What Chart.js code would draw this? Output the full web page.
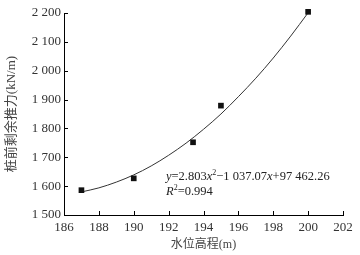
<!DOCTYPE html>
<html lang="zh">
<head>
<meta charset="UTF-8">
<title>桩前剩余推力与水位高程</title>
<style>
    html, body { margin: 0; padding: 0; background: #ffffff; }
    .wrap { width: 360px; height: 255px; position: relative; }
</style>
</head>
<body>
<div class="wrap"><canvas id="chart"></canvas></div>
<script src="https://cdn.jsdelivr.net/npm/chart.js@4.4.3/dist/chart.umd.min.js"></script>
<script>
// 实测点 (水位高程, 桩前剩余推力)
const waterLevel = [187, 190, 193.4, 195, 200];
const residualThrust = [1586, 1627, 1752, 1879, 2204];

// 拟合曲线 (从图上读取的点)
const fitX = [187, 188, 189, 190, 191, 192, 193, 194, 195, 196, 197, 198, 199, 200];
const fitY = [1580, 1594, 1614, 1639, 1670, 1707, 1749, 1797, 1850, 1910, 1974, 2044, 2120, 2201];

const xTicks = [186, 188, 190, 192, 194, 196, 198, 200, 202];
const yTicks = [1500, 1600, 1700, 1800, 1900, 2000, 2100, 2200];

const serif = '"Liberation Serif", "Times New Roman", serif';
const cjk = '"Liberation Serif", "Noto Sans CJK SC", serif';

function spaced(v) {
    return String(v).replace(/\B(?=(\d{3})+(?!\d))/g, ' ');
}

// 刻度朝内 + 拟合公式
const innerTicks = {
    id: 'innerTicks',
    afterDraw(chart) {
        const ctx = chart.ctx;
        const xs = chart.scales.x, ys = chart.scales.y;
        const a = chart.chartArea;
        ctx.save();
        ctx.strokeStyle = '#000';
        ctx.lineWidth = 1;
        ctx.beginPath();
        xTicks.forEach(v => {
            const px = Math.round(xs.getPixelForValue(v)) + 0.5;
            ctx.moveTo(px, a.bottom);
            ctx.lineTo(px, a.bottom - 4);
        });
        yTicks.forEach(v => {
            const py = Math.round(ys.getPixelForValue(v)) + 0.5;
            ctx.moveTo(a.left, py);
            ctx.lineTo(a.left + 4, py);
        });
        ctx.stroke();

        // 公式
        const parts = [
            ['y', 'italic'], ['=2.803', ''], ['x', 'italic'], ['2', 'sup'],
            ['\u22121 037.07', ''], ['x', 'italic'], ['+97 462.26', '']
        ];
        const parts2 = [['R', 'italic'], ['2', 'sup'], ['=0.994', '']];
        const drawLine = (arr, x, y) => {
            ctx.fillStyle = '#222';
            ctx.textBaseline = 'middle';
            ctx.textAlign = 'left';
            arr.forEach(([t, s]) => {
                if (s === 'sup') {
                    ctx.font = '8px ' + serif;
                    ctx.fillText(t, x, y - 4);
                } else {
                    ctx.font = (s === 'italic' ? 'italic ' : '') + '12.5px ' + serif;
                    ctx.fillText(t, x, y);
                }
                x += ctx.measureText(t).width;
            });
        };
        drawLine(parts, 166, 177);
        drawLine(parts2, 166, 192);
        ctx.restore();
    }
};

new Chart(document.getElementById('chart'), {
    type: 'scatter',
    data: {
        datasets: [{
            label: '实测',
            data: waterLevel.map((x, i) => ({ x: x, y: residualThrust[i] })),
            pointStyle: 'rect',
            pointRadius: 4,
            pointBorderWidth: 0,
            backgroundColor: '#111',
            borderColor: '#111',
            clip: false
        }, {
            label: '拟合',
            type: 'line',
            data: fitX.map((x, i) => ({ x: x, y: fitY[i] })),
            borderColor: '#333',
            borderWidth: 1,
            pointRadius: 0,
            cubicInterpolationMode: 'monotone',
            fill: false,
            clip: false
        }]
    },
    options: {
        responsive: true,
        maintainAspectRatio: false,
        animation: false,
        layout: { padding: { left: 0, top: 13, right: 17, bottom: 0 } },
        plugins: {
            legend: { display: false },
            tooltip: { enabled: false }
        },
        scales: {
            x: {
                type: 'linear',
                min: 186,
                max: 202,
                afterFit: s => { s.height = 40; },
                afterBuildTicks: s => { s.ticks = xTicks.map(v => ({ value: v })); },
                grid: { display: false, drawTicks: false },
                border: { display: true, color: '#000', width: 1 },
                ticks: {
                    color: '#333',
                    padding: 5,
                    maxRotation: 0,
                    font: { family: serif, size: 13 }
                },
                title: {
                    display: true,
                    text: '水位高程(m)',
                    color: '#444',
                    padding: { top: 0, bottom: 3 },
                    font: { family: cjk, size: 12 }
                }
            },
            y: {
                min: 1500,
                max: 2200,
                afterFit: s => { s.width = 64; },
                afterBuildTicks: s => { s.ticks = yTicks.map(v => ({ value: v })); },
                grid: { display: false, drawTicks: false },
                border: { display: true, color: '#000', width: 1 },
                ticks: {
                    color: '#333',
                    padding: 3,
                    font: { family: serif, size: 13 },
                    callback: v => spaced(v)
                },
                title: {
                    display: true,
                    text: '桩前剩余推力(kN/m)',
                    color: '#444',
                    padding: { top: 4, bottom: 0 },
                    font: { family: cjk, size: 13 }
                }
            }
        }
    },
    plugins: [innerTicks]
});
</script>
</body>
</html>
